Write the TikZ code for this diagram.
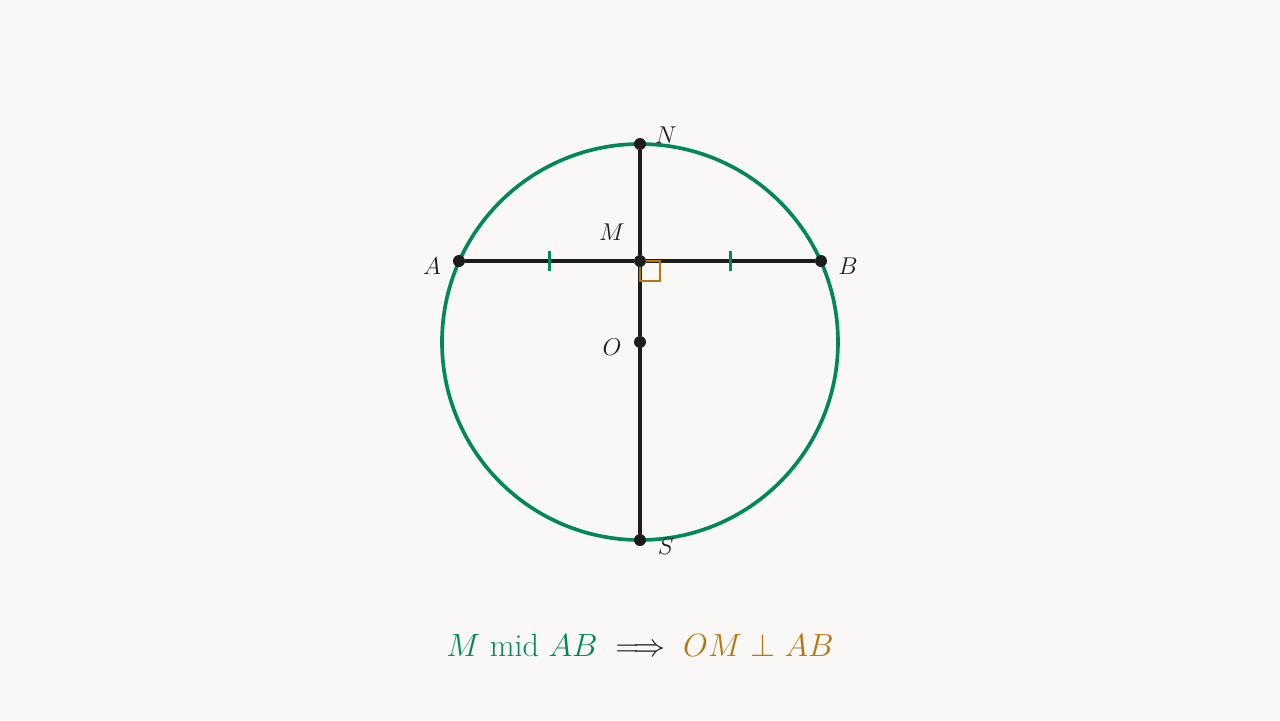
\documentclass[tikz,border=0pt]{standalone}
\usepackage{amsmath}
\usetikzlibrary{backgrounds}
\definecolor{bgc}{HTML}{F9F8F6}
\definecolor{grn}{HTML}{00875A}
\definecolor{org}{HTML}{B8760F}
\definecolor{ink}{HTML}{1C1C1C}
\tikzset{
  dot/.style={circle, fill=ink, inner sep=0pt, minimum size=0.3cm},
  seg/.style={draw=ink, line width=2.6pt},
  lbl/.style={font=\fontsize{17.28}{21}\selectfont, text=ink},
}
\begin{document}
\begin{tikzpicture}
\useasboundingbox (-16,-9.45) rectangle (16,8.55);
\node [dot] (A) at (-4.525,2.025) {};
\node [dot] (B) at (4.525,2.025) {};
\node [dot] (M) at (0,2.025) {};
\node [dot] (O) at (0,0) {};
\node [dot] (N) at (0,4.95) {};
\node [dot] (S) at (0,-4.95) {};
\begin{scope}[on background layer]
\fill [bgc] (-16,-9.45) rectangle (16,8.55);
\draw [grn, line width=2.6pt] (O) circle (4.95);
\draw [seg] (A) -- (M) -- (B);
\draw [seg] (N) -- (M) -- (O) -- (S);
\draw [org, line width=1.7pt] (M.center) rectangle ++(0.5,-0.5);
\end{scope}
% equal halves
\draw [grn, line width=1.8pt] (-2.2625,1.775) -- (-2.2625,2.275)
(2.2625,1.775) -- (2.2625,2.275);
\node [lbl] (lA) at (-5.2,1.9) {$A$};
\node [lbl] (lB) at (5.2,1.9) {$B$};
\node [lbl] (lM) at (-0.7,2.75) {$M$};
\node [lbl] (lO) at (-0.7,-0.125) {$O$};
\node [lbl] (lN) at (0.65,5.175) {$N$};
\node [lbl] (lS) at (0.65,-5.1) {$S$};
\node [font=\fontsize{20.74}{25}\selectfont, text=ink, scale=1.1] (rule) at (0,-7.575)
{$\color{grn}M\text{ mid }AB\color{ink}\implies\color{org}OM\perp AB$};
\end{tikzpicture}
\end{document}
